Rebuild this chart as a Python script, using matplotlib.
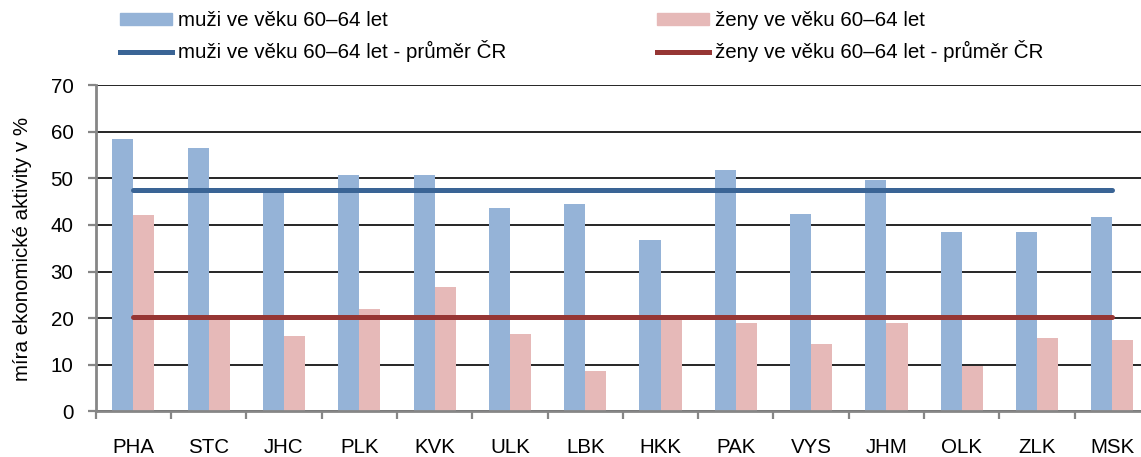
import numpy as np
import matplotlib
matplotlib.use("Agg")
import matplotlib.pyplot as plt
from matplotlib.patches import Patch
from matplotlib.lines import Line2D

plt.rcParams["font.family"] = ["Liberation Sans", "DejaVu Sans"]

regions = ["PHA", "STC", "JHC", "PLK", "KVK", "ULK", "LBK", "HKK",
           "PAK", "VYS", "JHM", "OLK", "ZLK", "MSK"]
men = [58.5, 56.4, 47.3, 50.8, 50.8, 43.6, 44.4, 36.8,
       51.7, 42.4, 49.6, 38.4, 38.4, 41.6]
women = [42.1, 20.6, 16.1, 21.9, 26.6, 16.7, 8.6, 20.4,
         19.0, 14.5, 19.0, 9.8, 15.8, 15.4]
men_avg = 47.6
women_avg = 20.2

label_men = "muži ve věku 60–64 let"
label_women = "ženy ve věku 60–64 let"
label_men_avg = "muži ve věku 60–64 let - průměr ČR"
label_women_avg = "ženy ve věku 60–64 let - průměr ČR"

C_MEN = "#95B3D7"
C_WOMEN = "#E6B9B8"
C_MEN_L = "#3A6495"
C_WOMEN_L = "#963634"
GREY = "#868686"
FS = 14.8

fig = plt.figure(figsize=(11.41, 4.57), dpi=100)
ax = fig.add_axes([0.0839, 0.0996, 0.924, 0.7143])

x = np.arange(len(regions))
w = 0.28
ax.bar(x - w / 2, men, w, color=C_MEN, zorder=2)
ax.bar(x + w / 2, women, w, color=C_WOMEN, zorder=2)
ax.plot(x, [men_avg] * len(x), color=C_MEN_L, lw=3.6,
        solid_capstyle="round", zorder=3)
ax.plot(x, [women_avg] * len(x), color=C_WOMEN_L, lw=3.6,
        solid_capstyle="round", zorder=3)

ax.set_xlim(-0.5, len(regions) - 0.5)
ax.set_ylim(0, 70)
ax.set_yticks(range(0, 71, 10))
ax.yaxis.grid(True, color="black", lw=1.2, zorder=0)
ax.set_axisbelow(True)

ax.set_xticks(x)
ax.set_xticklabels(regions, fontsize=FS)
ax.set_xticks(np.arange(-0.5, len(regions), 1), minor=True)
ax.tick_params(axis="x", which="major", length=0, pad=19)
ax.tick_params(axis="x", which="minor", length=6, width=1.6, color=GREY)
ax.tick_params(axis="y", length=6, width=1.6, color=GREY, labelsize=FS, pad=10)

for s in ("top", "right"):
    ax.spines[s].set_visible(False)
for s in ("left", "bottom"):
    ax.spines[s].set_color(GREY)
    ax.spines[s].set_linewidth(2)

fig.text(23 / 1141, 1 - 249 / 457, "míra ekonomické aktivity v %",
         rotation=90, ha="center", va="center", fontsize=FS)

leg_kw = dict(loc="upper left", frameon=False, fontsize=FS, borderpad=0,
              borderaxespad=0, handlelength=2.55, handleheight=0.5,
              handletextpad=0.25, labelspacing=0.5)
fig.legend([Patch(color=C_MEN), Line2D([], [], color=C_MEN_L, lw=3.6)],
           [label_men, label_men_avg],
           bbox_to_anchor=(120 / 1141, 1 - 11 / 457), **leg_kw)
fig.legend([Patch(color=C_WOMEN), Line2D([], [], color=C_WOMEN_L, lw=3.6)],
           [label_women, label_women_avg],
           bbox_to_anchor=(657 / 1141, 1 - 11 / 457), **leg_kw)

fig.savefig("out.png", dpi=100)
